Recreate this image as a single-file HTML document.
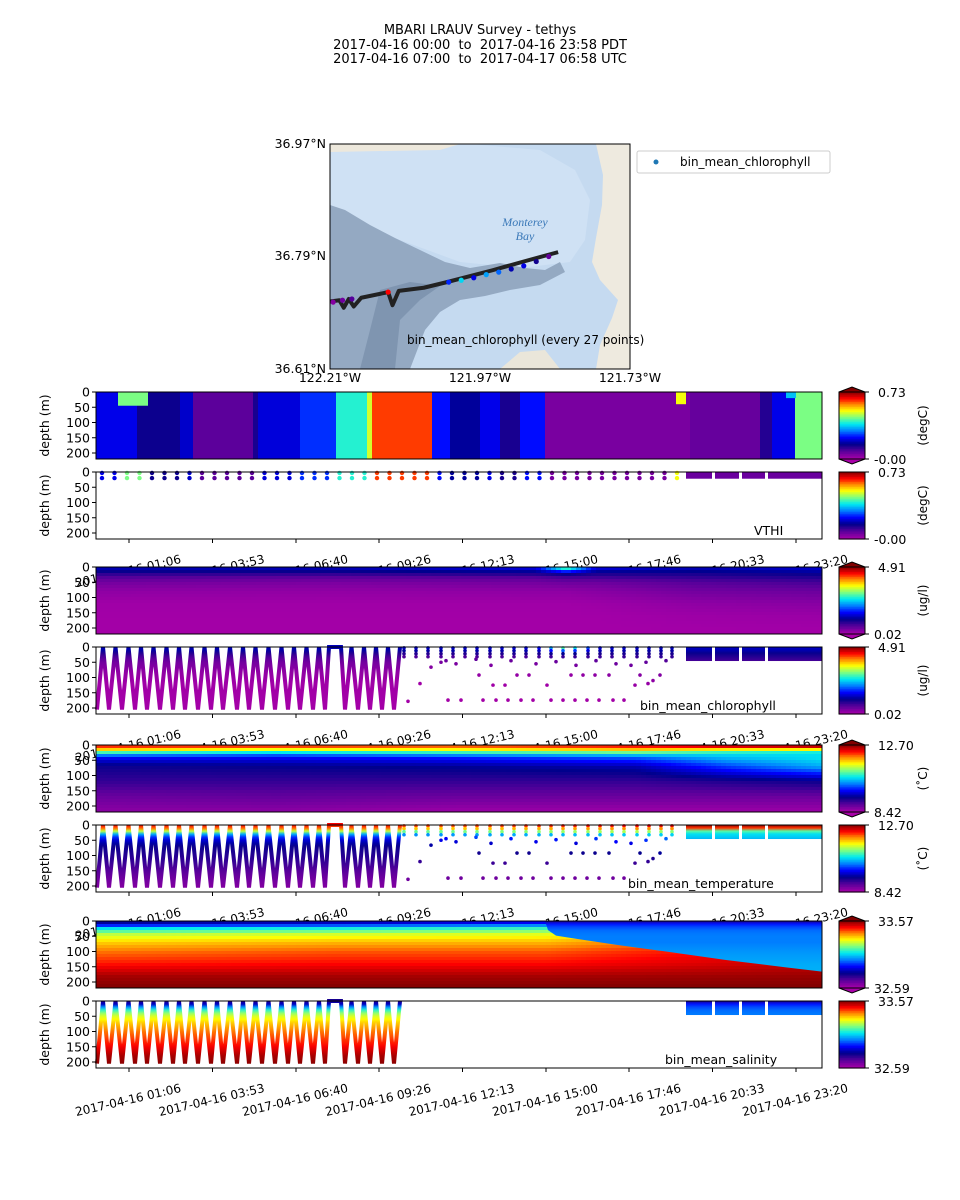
<!DOCTYPE html>
<html><head><meta charset="utf-8"><style>
html,body{margin:0;padding:0;background:#fff;}
svg{display:block;font-family:"DejaVu Sans","Liberation Sans",sans-serif;}
</style></head><body>
<svg id="fig" width="960" height="1200" viewBox="0 0 960 1200" xmlns="http://www.w3.org/2000/svg">
<defs>
<clipPath id="mapclip"><rect x="330" y="144" width="300" height="225"/></clipPath>
</defs>
<g font-size="13" text-anchor="middle" fill="#000">
<text x="480" y="34">MBARI LRAUV Survey - tethys</text>
<text x="480" y="49">2017-04-16 00:00&#160; to &#160;2017-04-16 23:58 PDT</text>
<text x="480" y="63">2017-04-16 07:00&#160; to &#160;2017-04-17 06:58 UTC</text>
</g>
<g id="map"></g>
<g id="panels"></g>
</svg>
<script>
// ---------- DATA ----------
const tickTimes = [66,233,400,566,733,900,1066,1233,1400];
const tickLabels = ["2017-04-16 01:06","2017-04-16 03:53","2017-04-16 06:40","2017-04-16 09:26","2017-04-16 12:13","2017-04-16 15:00","2017-04-16 17:46","2017-04-16 20:33","2017-04-16 23:20"];
const depthTicks = [0,50,100,150,200];

// panel 1 (VTHI) column data
const vthiColT = [0,82,168,194,314,324,408,480,542,552,672,708,768,808,848,898,1188,1328,1352,1398];
const vthiColV = [0.22,0.15,0.2,0.08,0.14,0.21,0.26,0.40,0.50,0.63,0.24,0.17,0.22,0.14,0.24,0.05,0.07,0.13,0.22,0.45];
const vthiPatchT0 = [44,1160,1380];
const vthiPatchT1 = [104,1180,1400];
const vthiPatchD = [45,40,20];
const vthiPatchV = [0.45,0.52,0.35];
const vthiDotT = [12,37,62,87,112,137,162,187,212,237,262,287,312,337,362,387,412,437,462,487,512,537,562,587,612,637,662,687,712,737,762,787,812,837,862,887,912,937,962,987,1012,1037,1062,1087,1112,1137,1162];
const vthiDotD = [3,20];

// profile knots
const profDepths = [0,10,20,35,50,80,120,160,218];
const chlKnotT = [0,480,880,940,1000,1200,1452];
const chlKnotP = [
 [1.3,1.2,0.9,0.6,0.4,0.2,0.08,0.06,0.05],
 [1.3,1.2,0.9,0.55,0.35,0.18,0.08,0.06,0.05],
 [1.5,1.3,1.0,0.6,0.4,0.2,0.08,0.06,0.05],
 [3.3,2.2,1.2,0.7,0.45,0.2,0.08,0.06,0.05],
 [1.5,1.3,1.0,0.7,0.45,0.25,0.1,0.06,0.05],
 [1.3,1.2,1.0,0.8,0.6,0.4,0.2,0.1,0.05],
 [1.4,1.3,1.1,0.9,0.7,0.45,0.25,0.12,0.05]];
const tempDepths = [0,10,20,30,45,70,120,170,218];
const tempKnotT = [0,360,720,1080,1260,1452];
const tempKnotP = [
 [12.3,12.0,11.3,10.4,9.7,9.3,9.1,8.8,8.6],
 [12.3,11.9,11.0,10.2,9.7,9.35,9.1,8.85,8.6],
 [12.2,11.8,11.2,10.4,9.8,9.4,9.1,8.8,8.5],
 [12.4,12.0,11.4,10.6,10.0,9.5,9.1,8.8,8.5],
 [12.6,12.1,11.0,10.6,10.4,10.0,9.2,8.8,8.5],
 [12.7,12.2,10.8,10.6,10.6,10.4,9.3,8.8,8.5]];
const salDepths = [0,10,25,45,70,100,140,180,218];
const salKnotT = [0,480,900,1452];
const salKnotP = [
 [32.78,32.85,33.1,33.25,33.33,33.4,33.46,33.54,33.57],
 [32.8,32.9,33.12,33.27,33.35,33.42,33.47,33.54,33.57],
 [32.85,32.95,33.15,33.28,33.35,33.42,33.47,33.54,33.57],
 [33.4,33.43,33.45,33.47,33.48,33.5,33.52,33.55,33.57]];
const salUpperP = [32.78,32.92,32.98,33.0,33.0,33.02,33.04,33.05,33.06];
const frontT = [898,904,920,960,1040,1140,1260,1380,1452];
const frontD = [0,30,48,58,78,100,128,152,166];

// yo-yo vertices [time, depth]
const yoT = [2,14,26,39,52,65,78,90,102,115,128,141,154,166,178,191,204,217,230,242,254,268,282,294,306,319,332,345,358,371,384,396,408,421,434,446,458,466,490,498,511,524,536,548,560,572,584,596,608];
const yoD = [205,0,205,0,205,0,205,0,205,0,205,0,205,0,205,0,205,0,205,0,205,0,205,0,205,0,205,0,205,0,205,0,205,0,205,0,205,0,0,205,0,205,0,205,0,205,0,205,0];
// scattered points after yo-yo
const cycT = [616,640,664,690,714,738,762,788,812,836,860,886,910,934,958,984,1008,1032,1056,1082,1106,1130,1152];
const shallowD = [3,12,22,32];
const deepT = [624,648,670,690,704,730,766,774,794,800,818,824,842,850,866,874,902,910,934,950,958,974,982,998,1006,1026,1034,1056,1078,1088,1104,1114,1128,700,720,760,790,830,880,920,960,1000,1040,1070,1100,1140];
const deepD = [178,120,66,50,174,174,92,174,125,174,125,174,92,174,92,174,125,174,174,92,174,92,174,92,174,92,174,174,125,92,120,110,92,45,55,40,60,45,55,48,60,45,55,60,50,45];
// dense band segments
const bandT0 = [1180,1238,1292,1344];
const bandT1 = [1232,1286,1338,1452];

// map track
const trkLon = [-122.21,-122.195,-122.188,-122.18,-122.172,-122.16,-122.117,-122.11,-122.10,-122.06,-122.023,-121.95,-121.90,-121.845];
const trkLat = [36.718,36.720,36.708,36.722,36.710,36.724,36.733,36.712,36.735,36.740,36.749,36.768,36.782,36.797];
const ptLon = [-122.205,-122.19,-122.175,-122.117,-122.02,-122.0,-121.98,-121.96,-121.94,-121.92,-121.90,-121.88,-121.86];
const ptLat = [36.717,36.720,36.722,36.733,36.749,36.752,36.756,36.761,36.765,36.770,36.775,36.782,36.790];
const ptV = [0.05,0.08,0.12,0.9,0.35,0.5,0.3,0.45,0.4,0.25,0.3,0.2,0.1];

// ---------- helpers ----------
const NS = "http://www.w3.org/2000/svg";
function el(tag, attrs, parent){ const e=document.createElementNS(NS,tag); for(const k in attrs) e.setAttribute(k,attrs[k]); if(parent) parent.appendChild(e); return e; }
const X0=96, X1=822, PXPM=0.5;
const xT = t => X0 + t*PXPM;
const DPX = 0.305;
const stops = [[0,[168,0,168]],[0.12,[85,0,154]],[0.22,[0,0,140]],[0.32,[0,0,255]],[0.42,[0,128,255]],[0.52,[0,235,240]],[0.62,[128,255,128]],[0.72,[255,255,0]],[0.82,[255,128,0]],[0.9,[255,0,0]],[1,[128,0,0]]];
function cmap(f){ f=Math.max(0,Math.min(1,f)); for(let i=1;i<stops.length;i++){ if(f<=stops[i][0]){ const a=stops[i-1],b=stops[i]; const u=(f-a[0])/(b[0]-a[0]); const c=a[1].map((v,k)=>Math.round(v+(b[1][k]-v)*u)); return `rgb(${c[0]},${c[1]},${c[2]})`; } } return "rgb(128,0,0)"; }
function interp1(xs, ys, x){ if(x<=xs[0]) return ys[0]; for(let i=1;i<xs.length;i++){ if(x<=xs[i]){ const u=(x-xs[i-1])/(xs[i]-xs[i-1]); return ys[i-1]+(ys[i]-ys[i-1])*u; } } return ys[ys.length-1]; }
function profVal(kT,kP,deps,t,d){ const col=kP.map(p=>interp1(deps,p,d)); return interp1(kT,col,t); }
const chlFn = (t,d)=>profVal(chlKnotT,chlKnotP,profDepths,t,d);
const tempFn = (t,d)=>profVal(tempKnotT,tempKnotP,tempDepths,t,d);
const salBaseFn = (t,d)=>profVal(salKnotT,salKnotP,salDepths,t,d);
const salFn = (t,d)=>{ if(t>=frontT[0] && d<interp1(frontT,frontD,t)) return interp1(salDepths,salUpperP,d); return salBaseFn(t,d); };
const salUpperFn = (t,d)=>interp1(salDepths,salUpperP,d);
function vthiFn(t,d){ for(let i=0;i<vthiPatchT0.length;i++){ if(t>=vthiPatchT0[i]&&t<vthiPatchT1[i]&&d<vthiPatchD[i]) return vthiPatchV[i]; } let v=vthiColV[0]; for(let i=0;i<vthiColT.length;i++){ if(t>=vthiColT[i]) v=vthiColV[i]; } return v; }

const panelsG = document.getElementById('panels');
const PH = 67;
function axes(g, top, showTicks){
  const ax=el('g',{},g);
  
  
  depthTicks.forEach(d=>{ const y=top+d*DPX; el('line',{x1:X0-4,x2:X0,y1:y,y2:y,stroke:'#000','stroke-width':1},ax); const tx=el('text',{x:X0-6,y:y+4.5,'font-size':12.5,'text-anchor':'end'},ax); tx.textContent=d; });
  const yl=el('text',{x:0,y:0,'font-size':12.5,'text-anchor':'middle',transform:`translate(49,${top+PH/2}) rotate(-90)`},ax);
  
  
  yl.textContent='depth (m)';
  if(showTicks){
    const xa=el('g',{},g);
    
    
    tickTimes.forEach((t,i)=>{ const x=xT(t); el('line',{x1:x,x2:x,y1:top+PH,y2:top+PH+4,stroke:'#000'},xa); const tx=el('text',{x:0,y:0,'font-size':12,'text-anchor':'middle',transform:`translate(${x},${top+PH+36}) rotate(-13)`},xa); tx.textContent=tickLabels[i]; });
  }
}
function frame(g,top){ const r=el('rect',{x:X0,y:top,width:X1-X0,height:PH,fill:'none',stroke:'#000','stroke-width':1},g);   }
function colorbar(g, top, extended, vmax, vmin, unit){
  const cb=el('g',{},g);
  
  
  const n=40, x=839, w=26;
  for(let i=0;i<n;i++){ const y=top+i*PH/n; el('rect',{x:x,y:y,width:w,height:PH/n+0.6,fill:cmap(1-(i+0.5)/n)},cb); }
  if(extended){ el('polygon',{points:`${x},${top} ${x+w/2},${top-5} ${x+w},${top}`,fill:cmap(1),stroke:'#000','stroke-width':1},cb); el('polygon',{points:`${x},${top+PH} ${x+w/2},${top+PH+5} ${x+w},${top+PH}`,fill:cmap(0),stroke:'#000','stroke-width':1},cb); }
  el('rect',{x:x,y:top,width:w,height:PH,fill:'none',stroke:'#000'},cb);
  el('line',{x1:x+w,x2:x+w+4,y1:top,y2:top,stroke:'#000'},cb);
  el('line',{x1:x+w,x2:x+w+4,y1:top+PH,y2:top+PH,stroke:'#000'},cb);
  const t1=el('text',{x:878,y:top+5,'font-size':12.5},cb); t1.textContent=vmax;
  const t2=el('text',{x:874,y:top+PH+5,'font-size':12.5},cb); t2.textContent=vmin;
  const u=el('text',{x:0,y:0,'font-size':12,'text-anchor':'middle',transform:`translate(927,${top+PH/2}) rotate(-90)`},cb); u.textContent=unit;
}
function heat(g, top, fn, vmin, vmax, name){
  const hg=el('g',{},g);
  
  
  const cw=5, rh=3;
  for(let x=X0;x<X1;x+=cw){ const t=(x+cw/2-X0)/PXPM;
    for(let y=top;y<top+PH;y+=rh){ const d=(y+rh/2-top)/DPX; const v=fn(t,d);
      const r=el('rect',{x:x,y:y,width:Math.min(cw,X1-x)+0.3,height:Math.min(rh,top+PH-y)+0.3,fill:cmap((v-vmin)/(vmax-vmin))},hg);
      
      
    } }
  return hg;
}
function label(g, x, y, txt){ const t=el('text',{x:x,y:y,'font-size':12.5},g);   t.textContent=txt; }
let gid=0;
function depthGrad(fn,t,vmin,vmax,top){ const id='gr'+(gid++); const lg=el('linearGradient',{id:id,gradientUnits:'userSpaceOnUse',x1:0,x2:0,y1:top,y2:top+220*DPX},document.querySelector('defs')); for(let d=0;d<=220;d+=10){ el('stop',{offset:d/220,'stop-color':cmap((fn(t,d)-vmin)/(vmax-vmin))},lg); } return id; }
function yoyoPanel(g, top, fn, vmin, vmax, dots, lbl, lx){
  const gr=depthGrad(fn,0,vmin,vmax,top);
  const pts=yoT.map((t,i)=>`${xT(t)},${top+yoD[i]*DPX}`).join(' ');
  const pl=el('polyline',{points:pts,fill:'none',stroke:`url(#${gr})`,'stroke-width':4,'stroke-linejoin':'miter'},g);
  
  
  if(dots){
    cycT.forEach(t=>shallowD.forEach(d=>{ const c=el('circle',{cx:xT(t),cy:top+d*DPX,r:1.8,fill:cmap((fn(t,d)-vmin)/(vmax-vmin))},g);   }));
    deepT.forEach((t,i)=>{ const d=deepD[i]; const c=el('circle',{cx:xT(t),cy:top+d*DPX,r:1.8,fill:cmap((fn(t,d)-vmin)/(vmax-vmin))},g);   });
  }
  const bg=depthGrad(fn,1320,vmin,vmax,top);
  bandT0.forEach((t0,i)=>{ const r=el('rect',{x:xT(t0),y:top,width:xT(bandT1[i])-xT(t0),height:46*DPX,fill:`url(#${bg})`},g);   });
  label(g,lx,top+63,lbl);
}

// ---------- panels ----------
const tops=[392,472,567,647,745,825,921,1001];
(function(){ const g=el('g',{},panelsG);  
 const hg=el('g',{},g);  
 const top=tops[0];
 vthiColT.forEach((t,i)=>{ const t1=i+1<vthiColT.length?vthiColT[i+1]:1452; const r=el('rect',{x:xT(t),y:top,width:xT(t1)-xT(t)+0.3,height:PH,fill:cmap(vthiColV[i]/0.73)},hg);   });
 vthiPatchT0.forEach((t,i)=>{ const r=el('rect',{x:xT(t),y:top,width:xT(vthiPatchT1[i])-xT(t),height:vthiPatchD[i]*DPX,fill:cmap(vthiPatchV[i]/0.73)},hg);   });
 frame(g,top); axes(g,top,false); colorbar(g,top,true,'0.73','-0.00','(degC)');
})();
(function(){ const g=el('g',{},panelsG);   const top=tops[1];
 vthiDotT.forEach(t=>vthiDotD.forEach(d=>{ const c=el('circle',{cx:xT(t),cy:top+d*DPX,r:2.2,fill:cmap(vthiFn(t,d)/0.73)},g);   }));
 bandT0.forEach((t0,i)=>{ const r=el('rect',{x:xT(t0),y:top,width:xT(bandT1[i])-xT(t0),height:22*DPX,fill:cmap(0.09)},g);   });
 label(g,754,top+63,'VTHI'); frame(g,top); axes(g,top,true); colorbar(g,top,false,'0.73','-0.00','(degC)');
})();
(function(){ const g=el('g',{},panelsG);   const top=tops[2];
 heat(g,top,chlFn,0.02,4.91,'chlorophyll-heatmap'); frame(g,top); axes(g,top,false); colorbar(g,top,true,'4.91','0.02','(ug/l)'); })();
(function(){ const g=el('g',{},panelsG);   const top=tops[3];
 yoyoPanel(g,top,chlFn,0.02,4.91,true,'bin_mean_chlorophyll',640); frame(g,top); axes(g,top,true); colorbar(g,top,false,'4.91','0.02','(ug/l)'); })();
(function(){ const g=el('g',{},panelsG);   const top=tops[4];
 heat(g,top,tempFn,8.42,12.70,'temperature-heatmap'); frame(g,top); axes(g,top,false); colorbar(g,top,true,'12.70','8.42','(\u02daC)'); })();
(function(){ const g=el('g',{},panelsG);   const top=tops[5];
 yoyoPanel(g,top,tempFn,8.42,12.70,true,'bin_mean_temperature',628); frame(g,top); axes(g,top,true); colorbar(g,top,false,'12.70','8.42','(\u02daC)'); })();
(function(){ const g=el('g',{},panelsG);   const top=tops[6];
 const hg=heat(g,top,salBaseFn,32.59,33.57,'salinity-heatmap');
 const ug=depthGrad(salUpperFn,1300,32.59,33.57,top);
 const pts=frontT.map((t,i)=>`${xT(t)},${top+frontD[i]*DPX}`);
 pts.push(`${X1},${top}`); pts.push(`${xT(frontT[0])},${top}`);
 const fp=el('polygon',{points:pts.join(' '),fill:`url(#${ug})`},hg);
 
 
 frame(g,top); axes(g,top,false); colorbar(g,top,true,'33.57','32.59',''); })();
(function(){ const g=el('g',{},panelsG);   const top=tops[7];
 yoyoPanel(g,top,salFn,32.59,33.57,false,'bin_mean_salinity',665); frame(g,top); axes(g,top,true); colorbar(g,top,false,'33.57','32.59',''); })();

// ---------- map ----------
(function(){
 const m=document.getElementById('map');
 const px = lon => 330 + (lon+122.21)/0.48*300;
 const py = lat => 144 + (36.97-lat)/0.36*225;
 const c=el('g',{'clip-path':'url(#mapclip)'},m);
 el('rect',{x:330,y:144,width:300,height:225,fill:'#c5daf0'},c);
 el('polygon',{points:'330,144 470,144 540,150 575,170 590,200 585,240 570,262 520,268 460,262 400,240 330,215',fill:'#cfe1f4'},c);
 el('polygon',{points:'330,144 460,144 440,150 330,152',fill:'#ede8dc'},c);
 el('polygon',{points:'596,144 630,144 630,369 596,369 600,345 612,318 618,300 600,280 592,262 596,238 602,205 603,175',fill:'#eeeadf'},c);
 el('polygon',{points:'500,369 520,352 545,350 560,369',fill:'#eae6da'},c);
 el('polygon',{points:'330,205 345,210 370,225 395,238 420,250 445,262 470,268 500,263 525,268 545,270 560,262 565,272 540,285 510,290 485,296 460,300 440,312 425,330 410,369 330,369',fill:'#94a9c2'},c);
 el('polygon',{points:'380,290 410,282 440,286 420,300 400,320 395,369 360,369 370,330',fill:'#7f95b0'},c);
 const mt=el('text',{x:525,y:226,'font-size':12,'font-style':'italic','font-family':'Liberation Serif,serif',fill:'#3a78b8','text-anchor':'middle'},c); mt.textContent='Monterey';
 const bt=el('text',{x:525,y:240,'font-size':12,'font-style':'italic','font-family':'Liberation Serif,serif',fill:'#3a78b8','text-anchor':'middle'},c); bt.textContent='Bay';
 const tr=el('polyline',{points:trkLon.map((l,i)=>`${px(l)},${py(trkLat[i])}`).join(' '),fill:'none',stroke:'#222','stroke-width':4,'stroke-linejoin':'round'},c);
 
 
 ptLon.forEach((l,i)=>{ const p=el('circle',{cx:px(l),cy:py(ptLat[i]),r:2.6,fill:cmap(ptV[i])},c);   });
 el('rect',{x:330,y:144,width:300,height:225,fill:'none',stroke:'#000'},m);
 const cap=el('text',{x:407,y:344,'font-size':12},m); cap.textContent='bin_mean_chlorophyll (every 27 points)';
 [['36.97°N',144],['36.79°N',256],['36.61°N',369]].forEach(a=>{ const t=el('text',{x:326,y:a[1]+4,'font-size':12.5,'text-anchor':'end'},m); t.textContent=a[0]; });
 [['122.21°W',330],['121.97°W',480],['121.73°W',630]].forEach(a=>{ const t=el('text',{x:a[1],y:382,'font-size':12.5,'text-anchor':'middle'},m); t.textContent=a[0]; });
 const lg=el('g',{},m);  
 el('rect',{x:637,y:151,width:193,height:22,rx:2,fill:'#fff',stroke:'#ccc'},lg);
 el('circle',{cx:656,cy:162,r:2.5,fill:'#1f77b4'},lg);
 const lt=el('text',{x:680,y:166,'font-size':12},lg); lt.textContent='bin_mean_chlorophyll';
})();
</script>
</body></html>
